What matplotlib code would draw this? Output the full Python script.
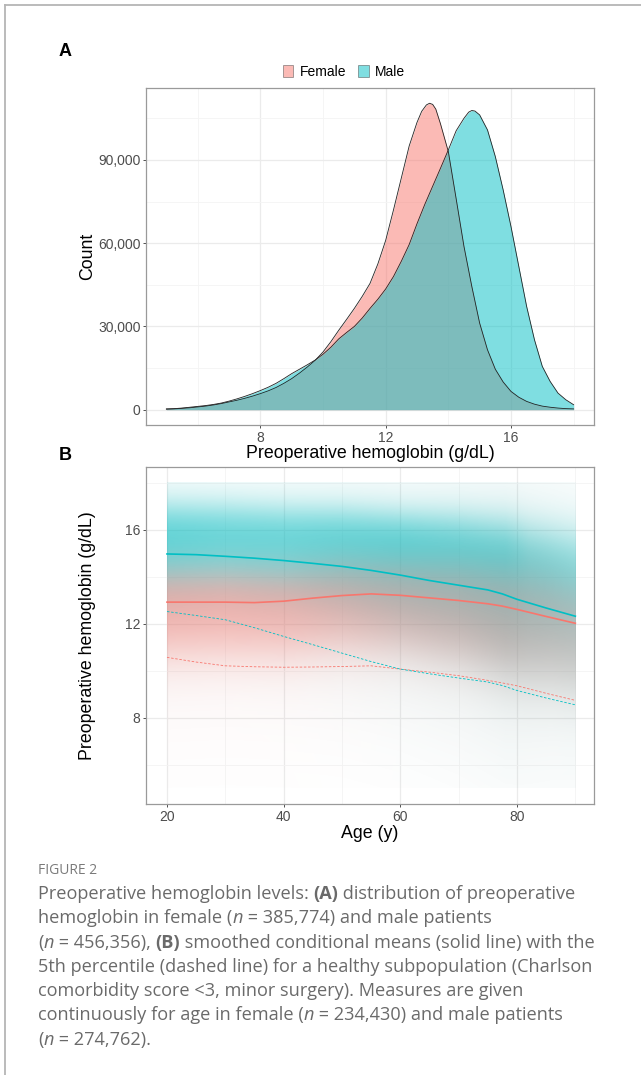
import numpy as np
import matplotlib
matplotlib.use("Agg")
import matplotlib.pyplot as plt
from matplotlib.patches import Patch
from matplotlib.lines import Line2D

# ---- data ----
# Panel A: density curves scaled to counts (thousands)
female_hb = [5.0, 5.25, 5.5, 5.75, 6.0, 6.25, 6.5, 6.75, 7.0, 7.25, 7.5, 7.75,
             8.0, 8.25, 8.5, 8.75, 9.0, 9.25, 9.5, 9.75, 10.0, 10.25, 10.5, 10.75,
             11.0, 11.25, 11.5, 11.75, 12.0, 12.25, 12.5, 12.75, 13.0, 13.15, 13.3,
             13.4, 13.5, 13.6, 13.75, 14.0, 14.25, 14.5, 14.75, 15.0, 15.25, 15.5,
             15.75, 16.0, 16.25, 16.5, 16.75, 17.0, 17.25, 17.5, 17.75, 18.0]
female_count = [0.2, 0.3, 0.5, 0.7, 1.0, 1.3, 1.7, 2.2, 2.8, 3.4, 4.1, 4.9,
                5.8, 6.8, 8.0, 9.5, 11.2, 13.2, 15.4, 17.8, 20.8, 24.5, 28.6, 32.5,
                36.5, 40.8, 45.5, 52.5, 61.0, 72.0, 83.5, 95.0, 103.5, 107.5, 109.8,
                110.4, 110.0, 108.3, 103.0, 93.0, 76.0, 58.8, 44.4, 31.2, 21.6, 14.6,
                10.0, 6.6, 4.5, 3.0, 2.0, 1.3, 0.9, 0.6, 0.4, 0.3]
male_hb = [5.0, 5.25, 5.5, 5.75, 6.0, 6.25, 6.5, 6.75, 7.0, 7.25, 7.5, 7.75,
           8.0, 8.25, 8.5, 8.75, 9.0, 9.25, 9.5, 9.75, 10.0, 10.25, 10.5, 10.75,
           11.0, 11.25, 11.5, 11.75, 12.0, 12.25, 12.5, 12.75, 13.0, 13.25, 13.5,
           13.75, 14.0, 14.25, 14.5, 14.65, 14.75, 14.85, 15.0, 15.25, 15.5, 15.75,
           16.0, 16.25, 16.5, 16.75, 17.0, 17.25, 17.5, 17.75, 18.0]
male_count = [0.3, 0.4, 0.6, 0.9, 1.2, 1.5, 1.9, 2.4, 3.1, 3.9, 4.8, 5.8,
              6.9, 8.1, 9.5, 11.2, 13.0, 14.6, 16.2, 17.9, 20.0, 22.5, 25.5, 27.8,
              30.0, 33.0, 36.5, 39.8, 43.5, 48.0, 53.5, 59.5, 67.0, 74.0, 80.5,
              87.0, 93.6, 100.5, 105.0, 107.2, 107.8, 107.6, 106.2, 100.8, 91.2, 79.2,
              66.0, 51.6, 37.2, 25.2, 15.6, 10.2, 6.0, 3.6, 1.8]

# Panel B: smoothed means and 5th percentiles by age
age_knots = [20, 25, 30, 35, 40, 45, 50, 55, 60, 65, 70, 75, 77.5, 80, 85, 90]
male_mean = [14.98, 14.95, 14.88, 14.80, 14.70, 14.58, 14.45, 14.28, 14.08,
             13.85, 13.65, 13.45, 13.28, 13.05, 12.68, 12.33]
female_mean = [12.93, 12.93, 12.93, 12.91, 12.97, 13.10, 13.21, 13.28, 13.22,
               13.11, 13.00, 12.86, 12.76, 12.62, 12.32, 12.03]
male_p5 = [12.53, 12.36, 12.18, 11.84, 11.47, 11.12, 10.76, 10.40, 10.08,
           9.88, 9.70, 9.53, 9.38, 9.17, 8.85, 8.56]
female_p5 = [10.58, 10.38, 10.22, 10.18, 10.16, 10.17, 10.19, 10.22, 10.08,
             9.95, 9.80, 9.60, 9.49, 9.37, 9.05, 8.75]

# Panel B: the point cloud, described by its centre, spread and density per age
cloud_age = [20, 30, 40, 50, 60, 70, 78, 82, 86, 90]
male_center = [15.6, 15.6, 15.5, 15.4, 15.2, 14.9, 14.5, 14.2, 14.0, 13.8]
male_sd_hi = [0.9, 0.9, 0.9, 0.9, 0.9, 1.0, 1.1, 1.2, 1.25, 1.3]
male_sd_lo = [1.3, 1.3, 1.4, 1.6, 1.8, 2.0, 2.2, 2.3, 2.3, 2.4]
male_weight = [0.95, 0.85, 0.85, 0.95, 1.05, 1.05, 1.1, 0.85, 0.75, 0.65]
female_center = [13.0, 13.0, 13.0, 13.3, 13.3, 13.1, 12.8, 12.6, 12.4, 12.1]
female_sd_hi = [1.0, 1.0, 1.0, 1.0, 1.0, 1.1, 1.2, 1.3, 1.3, 1.3]
female_sd_lo = [1.5, 1.5, 1.5, 1.5, 1.5, 1.6, 1.7, 1.8, 1.8, 1.8]
female_weight = [0.8, 0.75, 0.75, 0.8, 0.85, 0.9, 0.95, 0.75, 0.65, 0.55]

PINK = "#F8766D"
CYAN = "#00BFC4"
W, H = 641, 1075

plt.rcParams["font.family"] = ["Liberation Sans", "DejaVu Sans"]


def fx(x):
    return x / W


def fy(y):
    return 1 - y / H


def style_axes(ax):
    ax.set_facecolor("white")
    for s in ax.spines.values():
        s.set_color("#9a9a9a")
        s.set_linewidth(0.9)
    ax.grid(True, which="major", color="#EBEBEB", lw=0.9)
    ax.grid(True, which="minor", color="#F4F4F4", lw=0.6)
    ax.set_axisbelow(True)
    ax.tick_params(which="major", length=2.5, width=0.6, color="#333333",
                   labelsize=10, labelcolor="#4D4D4D", pad=1.5)
    ax.tick_params(which="minor", length=0)


fig = plt.figure(figsize=(W / 100, H / 100), dpi=100)

# page frame
fig.add_artist(Line2D([fx(5), fx(5)], [fy(5), 0], color="#b5b5b5", lw=1.3))
fig.add_artist(Line2D([fx(5), 1], [fy(5), fy(5)], color="#b5b5b5", lw=1.3))

# ---- panel A ----
axA = fig.add_axes([fx(146), fy(425), (594 - 146) / W, (425 - 88) / H])
style_axes(axA)
fc = [v * 1000 for v in female_count]
mc = [v * 1000 for v in male_count]
axA.fill_between(female_hb, fc, color=PINK, alpha=0.5, lw=0)
axA.fill_between(male_hb, mc, color=CYAN, alpha=0.5, lw=0)
axA.plot(female_hb, fc, color="#222222", lw=0.6)
axA.plot(male_hb, mc, color="#222222", lw=0.6)
axA.set_xlim(4.35, 18.65)
axA.set_ylim(-5500, 115900)
axA.set_xticks([8, 12, 16])
axA.set_xticks([6, 10, 14, 18], minor=True)
axA.set_yticks([0, 30000, 60000, 90000])
axA.set_yticklabels(["0", "30,000", "60,000", "90,000"])
axA.set_yticks([15000, 45000, 75000, 105000], minor=True)

fig.text(fx(65), fy(52), "A", fontsize=13, fontweight="bold", ha="center", va="center")
fig.text(fx(370), fy(454), "Preoperative hemoglobin (g/dL)", fontsize=12.8,
         ha="center", va="center")
fig.text(fx(88), fy(256), "Count", fontsize=12.8, rotation=90, ha="center", va="center")

handles = [Patch(facecolor=PINK, alpha=0.5, edgecolor="#333333", lw=0.6, label="Female"),
           Patch(facecolor=CYAN, alpha=0.5, edgecolor="#333333", lw=0.6, label="Male")]
leg = fig.legend(handles=handles, loc="center", bbox_to_anchor=(fx(344), fy(72)),
                 ncol=2, frameon=False, fontsize=10, handlelength=0.75,
                 handleheight=1.0, handletextpad=0.45, columnspacing=0.9)
for p in leg.get_patches():
    p.set_edgecolor("#333333")

# ---- panel B ----
axB = fig.add_axes([fx(146), fy(804), (594 - 146) / W, (804 - 467) / H])
style_axes(axB)

ag = np.linspace(20, 90, 421)
hg = np.linspace(5, 18, 301)
A, Hh = np.meshgrid(ag, hg)


def cloud(center, sd_hi, sd_lo, weight):
    c = np.interp(A, cloud_age, center)
    sh = np.interp(A, cloud_age, sd_hi)
    sl = np.interp(A, cloud_age, sd_lo)
    w = np.interp(A, cloud_age, weight)
    sd = np.where(Hh > c, sh, sl)
    core = np.exp(-0.5 * ((Hh - c) / sd) ** 2)
    tail = 0.1 * np.exp(-0.5 * ((Hh - c) / (sd * 2.4)) ** 2)
    return w * (core + tail)


Dm = cloud(male_center, male_sd_hi, male_sd_lo, male_weight)
Df = cloud(female_center, female_sd_hi, female_sd_lo, female_weight)
T = Dm + Df
frac = Dm / (T + 1e-9)
cm = np.array(matplotlib.colors.to_rgb(CYAN))
cf = np.array(matplotlib.colors.to_rgb(PINK))
rgba = np.zeros(A.shape + (4,))
rgba[..., :3] = frac[..., None] * cm + (1 - frac[..., None]) * cf
rgba[..., 3] = 0.8 * (1 - np.exp(-1.4 * T))
axB.imshow(rgba, extent=[20, 90, 5, 18], origin="lower", aspect="auto",
           interpolation="bilinear", zorder=1)

axB.plot(age_knots, female_mean, color=PINK, lw=1.2, zorder=3)
axB.plot(age_knots, male_mean, color=CYAN, lw=1.2, zorder=3)
axB.plot(age_knots, female_p5, color=PINK, lw=0.6, ls=(0, (3, 2)), zorder=3)
axB.plot(age_knots, male_p5, color=CYAN, lw=0.6, ls=(0, (3, 2)), zorder=3)

axB.set_xlim(16.4, 93.2)
axB.set_ylim(4.34, 18.68)
axB.set_xticks([20, 40, 60, 80])
axB.set_xticks([30, 50, 70, 90], minor=True)
axB.set_yticks([8, 12, 16])
axB.set_yticks([6, 10, 14, 18], minor=True)

fig.text(fx(65), fy(455), "B", fontsize=13, fontweight="bold", ha="center", va="center")
fig.text(fx(370), fy(833), "Age (y)", fontsize=12.8, ha="center", va="center")
fig.text(fx(88), fy(636), "Preoperative hemoglobin (g/dL)", fontsize=12.8,
         rotation=90, ha="center", va="center")

# ---- caption ----
CAP = ["Open Sans", "DejaVu Sans"]
CAP_COLOR = "#6a6a6a"
cap_size = 13.1
fig.text(fx(38), fy(871), "FIGURE 2", fontsize=10, color="#7a7a7a",
         family=CAP, va="center")

cap_lines = [
    [("Preoperative hemoglobin levels: ", "normal", "normal"), ("(A)", "bold", "normal"),
     (" distribution of preoperative", "normal", "normal")],
    [("hemoglobin in female (", "normal", "normal"), ("n", "normal", "italic"),
     (" = 385,774) and male patients", "normal", "normal")],
    [("(", "normal", "normal"), ("n", "normal", "italic"),
     (" = 456,356), ", "normal", "normal"), ("(B)", "bold", "normal"),
     (" smoothed conditional means (solid line) with the", "normal", "normal")],
    [("5th percentile (dashed line) for a healthy subpopulation (Charlson", "normal", "normal")],
    [("comorbidity score <3, minor surgery). Measures are given", "normal", "normal")],
    [("continuously for age in female (", "normal", "normal"), ("n", "normal", "italic"),
     (" = 234,430) and male patients", "normal", "normal")],
    [("(", "normal", "normal"), ("n", "normal", "italic"),
     (" = 274,762).", "normal", "normal")],
]

renderer = fig.canvas.get_renderer()


def run_width(s, weight, style):
    # width in pixels, padded with dots so spaces at the ends count
    t1 = fig.text(0, 0, "." + s + ".", fontsize=cap_size, family=CAP,
                  fontweight=weight, fontstyle=style)
    t2 = fig.text(0, 0, "..", fontsize=cap_size, family=CAP,
                  fontweight=weight, fontstyle=style)
    w = t1.get_window_extent(renderer).width - t2.get_window_extent(renderer).width
    t1.remove()
    t2.remove()
    return w


y0 = 894
for i, line in enumerate(cap_lines):
    x = 38
    y = y0 + i * 24.3
    for s, weight, style in line:
        fig.text(fx(x), fy(y), s, fontsize=cap_size, family=CAP, fontweight=weight,
                 fontstyle=style, color=CAP_COLOR, va="center", ha="left")
        x += run_width(s, weight, style)

fig.savefig("out.png", dpi=100)
